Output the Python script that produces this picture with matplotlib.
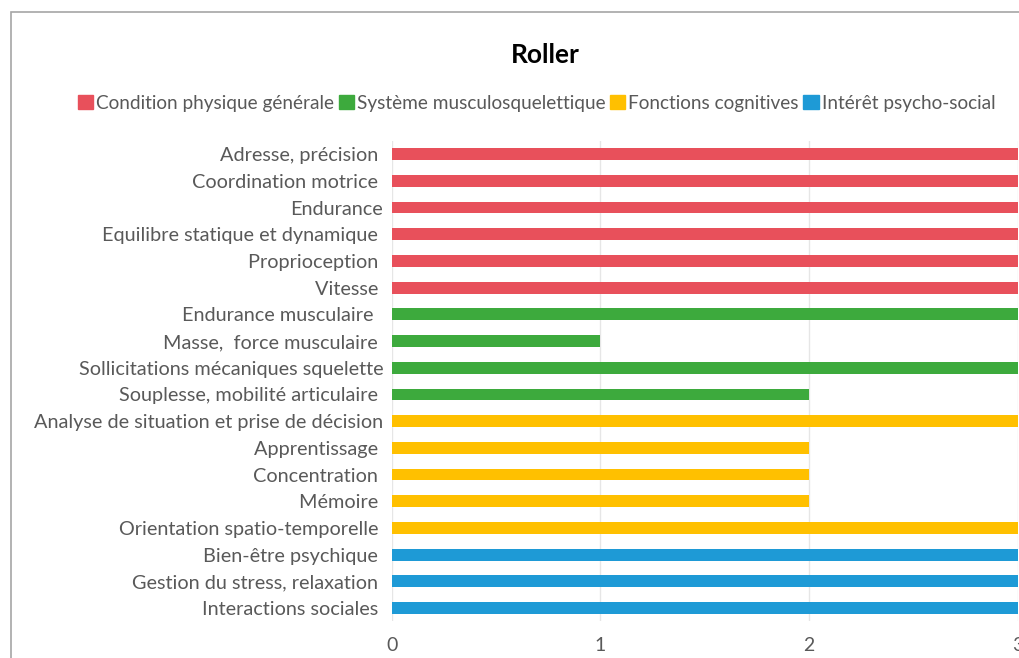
import matplotlib.pyplot as plt
from matplotlib.patches import Patch, Rectangle

plt.rcParams['font.family'] = ['Lato', 'DejaVu Sans']

# Data
labels = [
    "Adresse, précision ", "Coordination motrice ", "Endurance",
    "Equilibre statique et dynamique ", "Proprioception ", "Vitesse ",
    "Endurance musculaire  ", "Masse,  force musculaire ",
    "Sollicitations mécaniques squelette", "Souplesse, mobilité articulaire ",
    "Analyse de situation et prise de décision", "Apprentissage ",
    "Concentration ", "Mémoire ", "Orientation spatio-temporelle ",
    "Bien-être psychique ", "Gestion du stress, relaxation ",
    "Interactions sociales ",
]
values = [3, 3, 3, 3, 3, 3, 3, 1, 3, 2, 3, 2, 2, 2, 3, 3, 3, 3]
groups = [0] * 6 + [1] * 4 + [2] * 5 + [3] * 3
group_names = ["Condition physique générale", "Système musculosquelettique",
               "Fonctions cognitives", "Intérêt psycho-social"]
group_colors = ["#E8505B", "#3DAA3D", "#FFC000", "#1E9AD6"]
ticks = [0, 1, 2, 3]

fig = plt.figure(figsize=(10.2, 6.58), dpi=100)
ax = fig.add_axes([0.384, 0.0556, 0.614, 0.7304])

ypos = list(range(len(labels)))
ax.barh(ypos, values, height=0.44, color=[group_colors[g] for g in groups], zorder=3)
ax.set_ylim(len(labels) - 0.5, -0.5)
ax.set_xlim(0, 3)
ax.set_yticks(ypos)
ax.set_yticklabels(labels, fontsize=14.3, color="#595959")
ax.set_xticks(ticks)
ax.set_xticklabels([str(t) for t in ticks], fontsize=14, color="#595959")
ax.tick_params(length=0, pad=6)
ax.tick_params(axis='x', pad=11)
ax.grid(axis='x', color="#E6E6E6", linewidth=1, zorder=0)
for s in ax.spines.values():
    s.set_visible(False)

# Title and legend
fig.text(0.535, 0.917, "Roller", ha='center', va='center', fontsize=19,
         fontweight='bold', color="#000000")
handles = [Patch(facecolor=c, edgecolor=c) for c in group_colors]
fig.legend(handles, group_names, loc='center', bbox_to_anchor=(0.526, 0.843),
           ncol=4, frameon=False, fontsize=13.7, labelcolor="#595959",
           handlelength=0.8, handleheight=0.8, handletextpad=0.15,
           columnspacing=0.25, borderaxespad=0)

# Outer chart border
fig.patches.append(Rectangle((11 / 1020, -0.01), 1.1, 1 - 12 / 658 + 0.01,
                             transform=fig.transFigure, fill=False,
                             edgecolor="#A6A6A6", linewidth=1.2))

fig.savefig("out.png", dpi=100)
